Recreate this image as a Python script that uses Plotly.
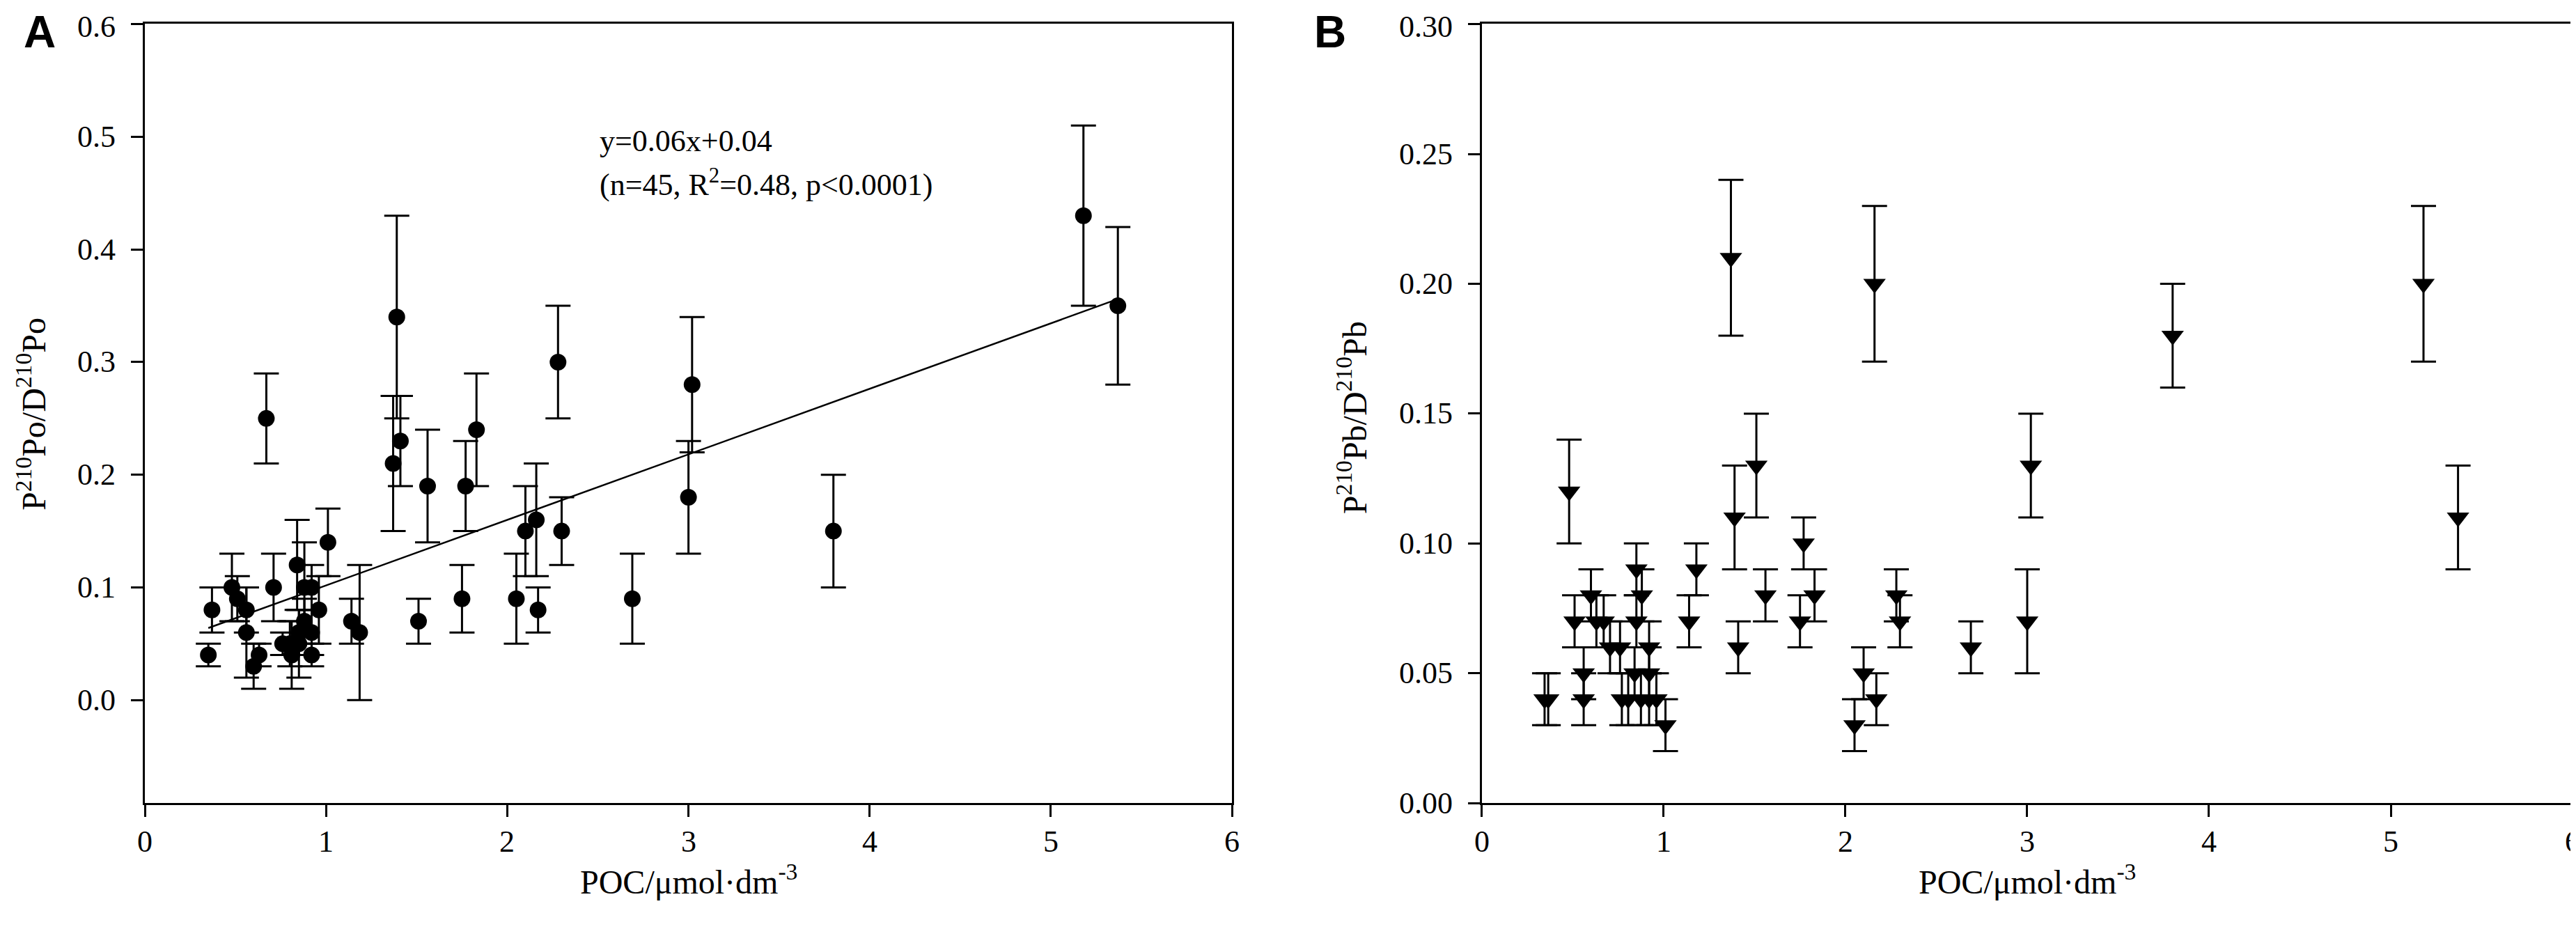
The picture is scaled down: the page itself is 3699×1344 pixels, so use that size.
import plotly.graph_objects as go

# ---------------- Panel A data ----------------
poc_a = [0.35, 0.37, 0.48, 0.51, 0.56, 0.56, 0.60, 0.63, 0.67, 0.71,
         0.76, 0.80, 0.81, 0.84, 0.85, 0.85, 0.88, 0.88, 0.92, 0.92,
         0.92, 0.96, 1.01, 1.14, 1.185, 1.37, 1.39, 1.41, 1.51, 1.56,
         1.75, 1.77, 1.83, 2.05, 2.10, 2.16, 2.17, 2.28, 2.30, 2.69,
         3.00, 3.02, 3.80, 5.18, 5.37]
po_ratio = [0.04, 0.08, 0.10, 0.09, 0.08, 0.06, 0.03, 0.04, 0.25, 0.10,
            0.05, 0.05, 0.04, 0.12, 0.06, 0.05, 0.10, 0.07, 0.10, 0.06,
            0.04, 0.08, 0.14, 0.07, 0.06, 0.21, 0.34, 0.23, 0.07, 0.19,
            0.09, 0.19, 0.24, 0.09, 0.15, 0.16, 0.08, 0.30, 0.15, 0.09,
            0.18, 0.28, 0.15, 0.43, 0.35]
po_err = [0.01, 0.02, 0.03, 0.02, 0.02, 0.04, 0.02, 0.01, 0.04, 0.03,
          0.01, 0.02, 0.03, 0.04, 0.02, 0.03, 0.04, 0.02, 0.02, 0.02,
          0.01, 0.03, 0.03, 0.02, 0.06, 0.06, 0.09, 0.04, 0.02, 0.05,
          0.03, 0.04, 0.05, 0.04, 0.04, 0.05, 0.02, 0.05, 0.03, 0.04,
          0.05, 0.06, 0.05, 0.08, 0.07]

# regression line y=0.06x+0.04 (end points)
fit_x = [0.35, 5.37]
fit_y = [0.064, 0.356]

# ---------------- Panel B data ----------------
poc_b = [0.345, 0.365, 0.48, 0.51, 0.56, 0.56, 0.60, 0.63, 0.67, 0.705,
         0.76, 0.77, 0.805, 0.84, 0.85, 0.85, 0.875, 0.88, 0.92, 0.92,
         0.92, 0.96, 1.01, 1.14, 1.18, 1.37, 1.39, 1.41, 1.51, 1.56,
         1.75, 1.77, 1.83, 2.05, 2.10, 2.16, 2.17, 2.28, 2.30, 2.69,
         3.00, 3.02, 3.80, 5.18, 5.37]
pb_ratio = [0.04, 0.04, 0.12, 0.07, 0.05, 0.04, 0.08, 0.07, 0.07, 0.06,
            0.06, 0.04, 0.04, 0.05, 0.09, 0.07, 0.04, 0.08, 0.06, 0.05,
            0.04, 0.04, 0.03, 0.07, 0.09, 0.21, 0.11, 0.06, 0.13, 0.08,
            0.07, 0.10, 0.08, 0.03, 0.05, 0.20, 0.04, 0.08, 0.07, 0.06,
            0.07, 0.13, 0.18, 0.20, 0.11]
pb_err = [0.01, 0.01, 0.02, 0.01, 0.01, 0.01, 0.01, 0.01, 0.01, 0.01,
          0.01, 0.01, 0.01, 0.01, 0.01, 0.01, 0.01, 0.01, 0.01, 0.01,
          0.01, 0.01, 0.01, 0.01, 0.01, 0.03, 0.02, 0.01, 0.02, 0.01,
          0.01, 0.01, 0.01, 0.01, 0.01, 0.03, 0.01, 0.01, 0.01, 0.01,
          0.02, 0.02, 0.02, 0.03, 0.02]

x_ticks = [0, 1, 2, 3, 4, 5, 6]
x_tick_text = ["0", "1", "2", "3", "4", "5", "6"]
y_ticks_a = [0.0, 0.1, 0.2, 0.3, 0.4, 0.5, 0.6]
y_tick_text_a = ["0.0", "0.1", "0.2", "0.3", "0.4", "0.5", "0.6"]
y_ticks_b = [0.00, 0.05, 0.10, 0.15, 0.20, 0.25, 0.30]
y_tick_text_b = ["0.00", "0.05", "0.10", "0.15", "0.20", "0.25", "0.30"]

SERIF = "Liberation Serif"
TICK_SIZE = 44
TITLE_SIZE = 48

fig = go.Figure()

fig.add_trace(go.Scatter(
    x=fit_x, y=fit_y, mode="lines",
    line=dict(color="black", width=2.5),
    xaxis="x", yaxis="y", showlegend=False, hoverinfo="skip"))

fig.add_trace(go.Scatter(
    x=poc_a, y=po_ratio, mode="markers",
    marker=dict(symbol="circle", size=24, color="black", line=dict(width=0)),
    error_y=dict(type="data", array=po_err, color="black", thickness=3, width=18),
    xaxis="x", yaxis="y", showlegend=False))

fig.add_trace(go.Scatter(
    x=poc_b, y=pb_ratio, mode="markers",
    marker=dict(symbol="triangle-down", size=28, color="black", line=dict(width=0)),
    error_y=dict(type="data", array=pb_err, color="black", thickness=3, width=18),
    xaxis="x2", yaxis="y2", showlegend=False))

axis_common = dict(
    showgrid=False, zeroline=False, showline=True, linecolor="black", linewidth=3,
    mirror=True, ticks="outside", ticklen=17, tickwidth=3, tickcolor="black",
    showticklabels=False,
)

Y_DOMAIN = [0.148, 0.9807]

fig.update_layout(
    width=3699, height=1344,
    margin=dict(l=0, r=0, t=0, b=0),
    font=dict(family=SERIF, size=TICK_SIZE, color="black"),
    paper_bgcolor="white", plot_bgcolor="white",
    xaxis=dict(domain=[0.0541, 0.4761], range=[0, 6], tickvals=x_ticks,
               anchor="y", **axis_common),
    yaxis=dict(domain=Y_DOMAIN, range=[-0.0914, 0.6005],
               tickvals=y_ticks_a, anchor="x", **axis_common),
    xaxis2=dict(domain=[0.5731, 0.9965], range=[0, 6], tickvals=x_ticks,
                anchor="y2", **axis_common),
    yaxis2=dict(domain=Y_DOMAIN, range=[0, 0.3002],
                tickvals=y_ticks_b, anchor="x2", **axis_common),
)

tick_font = dict(family=SERIF, size=TICK_SIZE, color="black")
ann = []
# tick labels (as text, placed at the axis tick values)
for xr in ["x", "x2"]:
    for v, t in zip(x_ticks, x_tick_text):
        ann.append(dict(x=v, y=0.1071, xref=xr, yref="paper", text=t,
                        xanchor="center", yanchor="middle", showarrow=False,
                        font=tick_font))
for i, (v, t) in enumerate(zip(y_ticks_a, y_tick_text_a)):
    ann.append(dict(x=0.0433, y=v, xref="paper", yref="y", text=t,
                    xanchor="right", yanchor="middle", showarrow=False,
                    yshift=-4 if i == len(y_ticks_a) - 1 else 0,
                    font=tick_font))
for i, (v, t) in enumerate(zip(y_ticks_b, y_tick_text_b)):
    ann.append(dict(x=0.5623, y=v, xref="paper", yref="y2", text=t,
                    xanchor="right", yanchor="middle", showarrow=False,
                    yshift=-4 if i == len(y_ticks_b) - 1 else 0,
                    font=tick_font))
# regression text
ann.append(dict(x=2.50, y=0.496, xref="x", yref="y", xanchor="left", yanchor="middle",
                text="y=0.06x+0.04", showarrow=False, font=tick_font))
ann.append(dict(x=2.50, y=0.459, xref="x", yref="y", xanchor="left", yanchor="middle",
                text="(n=45, R<sup>2</sup>=0.48, p<0.0001)", showarrow=False,
                font=tick_font))
# axis titles
for xc in [0.2651, 0.7848]:
    ann.append(dict(x=xc, y=0.066, xref="paper", yref="paper",
                    xanchor="center", yanchor="middle", showarrow=False,
                    text="POC/μmol·dm<sup>-3</sup>",
                    font=dict(family=SERIF, size=TITLE_SIZE, color="black")))
ann.append(dict(x=0.0100, y=0.564, xref="paper", yref="paper", textangle=-90,
                xanchor="center", yanchor="middle", showarrow=False,
                text="P<sup>210</sup>Po/D<sup>210</sup>Po",
                font=dict(family=SERIF, size=TITLE_SIZE, color="black")))
ann.append(dict(x=0.5228, y=0.560, xref="paper", yref="paper", textangle=-90,
                xanchor="center", yanchor="middle", showarrow=False,
                text="P<sup>210</sup>Pb/D<sup>210</sup>Pb",
                font=dict(family=SERIF, size=TITLE_SIZE, color="black")))
# panel letters
ann.append(dict(x=0.0132, y=1.0, xref="paper", yref="paper",
                xanchor="center", yanchor="top", showarrow=False, text="<b>A</b>",
                font=dict(family="Liberation Sans", size=64, color="black")))
ann.append(dict(x=0.5142, y=1.0, xref="paper", yref="paper",
                xanchor="center", yanchor="top", showarrow=False, text="<b>B</b>",
                font=dict(family="Liberation Sans", size=64, color="black")))

fig.update_layout(annotations=ann)

fig.write_html("out.html")
